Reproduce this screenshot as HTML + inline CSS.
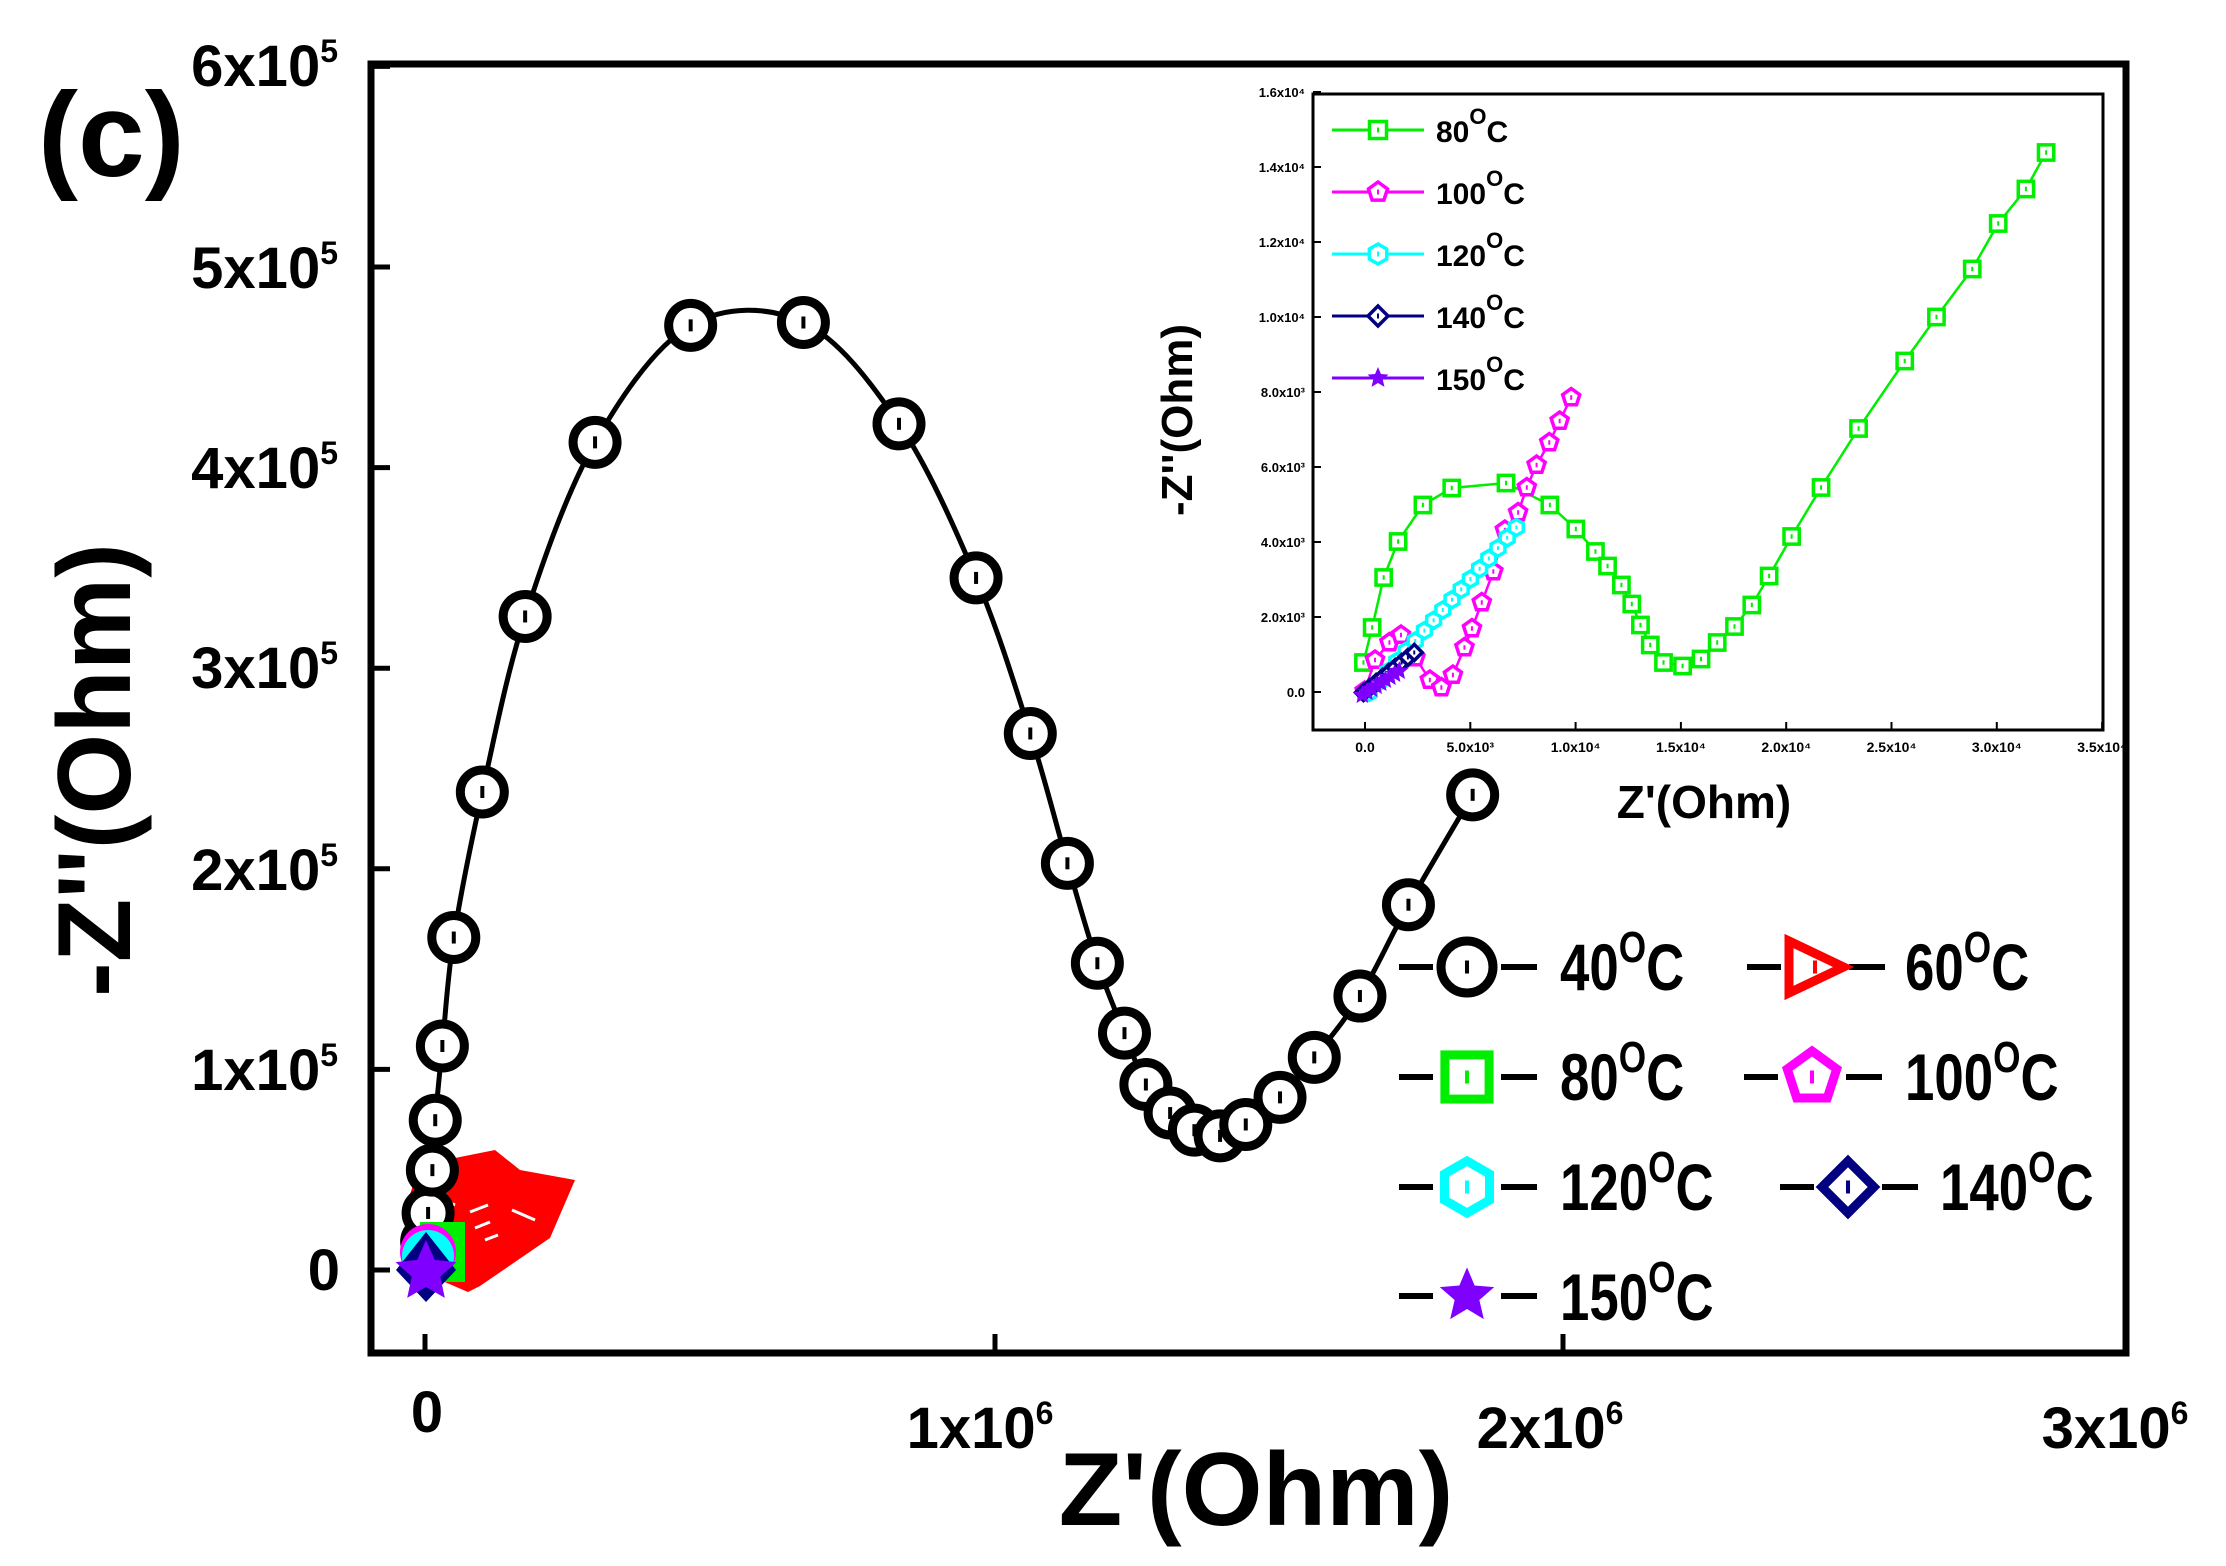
<!DOCTYPE html>
<html><head><meta charset="utf-8"><style>
html,body{margin:0;padding:0;background:#fff;}
svg{display:block;}
text{font-family:"Liberation Sans",sans-serif;}
</style></head><body>
<svg id="s" width="2226" height="1566" viewBox="0 0 2226 1566" xmlns="http://www.w3.org/2000/svg">
<rect width="2226" height="1566" fill="#fff"/>
<rect x="371" y="64" width="1755" height="1289" fill="none" stroke="#000" stroke-width="7"/>
<g id="mainticks" stroke="#000" stroke-width="5"></g>
<g font-weight="bold" fill="#000" font-size="58" text-anchor="end">
<text x="340" y="1290">0</text>
<text x="338" y="1090">1x10<tspan dy="-24" font-size="32">5</tspan></text>
<text x="338" y="890">2x10<tspan dy="-24" font-size="32">5</tspan></text>
<text x="338" y="688">3x10<tspan dy="-24" font-size="32">5</tspan></text>
<text x="338" y="488">4x10<tspan dy="-24" font-size="32">5</tspan></text>
<text x="338" y="288">5x10<tspan dy="-24" font-size="32">5</tspan></text>
<text x="338" y="86">6x10<tspan dy="-24" font-size="32">5</tspan></text>
</g>
<g font-weight="bold" fill="#000" font-size="58" text-anchor="middle">
<text x="427" y="1432">0</text>
<text x="980" y="1448">1x10<tspan dy="-24" font-size="32">6</tspan></text>
<text x="1550" y="1448">2x10<tspan dy="-24" font-size="32">6</tspan></text>
<text x="2115" y="1448">3x10<tspan dy="-24" font-size="32">6</tspan></text>
</g>
<text x="1256" y="1525" font-size="104" font-weight="bold" text-anchor="middle">Z'(Ohm)</text>
<text transform="translate(130,770) rotate(-90)" font-size="104" font-weight="bold" text-anchor="middle">-Z''(Ohm)</text>
<text x="38" y="176" font-size="120" font-weight="bold">(c)</text>

<polygon points="420,1165 495,1150 520,1170 575,1180 550,1238 480,1286 468,1292 440,1280 412,1250 408,1200" fill="#ff0000"/>
<g stroke="#fff" stroke-width="3">
<line x1="435" y1="1180" x2="450" y2="1186"/><line x1="430" y1="1195" x2="455" y2="1205"/>
<line x1="470" y1="1212" x2="488" y2="1205"/><line x1="512" y1="1210" x2="535" y2="1220"/>
<line x1="475" y1="1228" x2="490" y2="1222"/><line x1="485" y1="1240" x2="498" y2="1235"/>
</g>
<g id="main"></g>
<g id="small"></g>

<g id="leg"></g>
<g font-size="66" fill="#000" font-weight="bold">
<text x="1560" y="990" transform="translate(1560,0) scale(0.8,1) translate(-1560,0)">40<tspan dy="-28" font-size="44">O</tspan><tspan dy="28">C</tspan></text>
<text x="1905" y="990" transform="translate(1905,0) scale(0.8,1) translate(-1905,0)">60<tspan dy="-28" font-size="44">O</tspan><tspan dy="28">C</tspan></text>
<text x="1560" y="1100" transform="translate(1560,0) scale(0.8,1) translate(-1560,0)">80<tspan dy="-28" font-size="44">O</tspan><tspan dy="28">C</tspan></text>
<text x="1905" y="1100" transform="translate(1905,0) scale(0.8,1) translate(-1905,0)">100<tspan dy="-28" font-size="44">O</tspan><tspan dy="28">C</tspan></text>
<text x="1560" y="1210" transform="translate(1560,0) scale(0.8,1) translate(-1560,0)">120<tspan dy="-28" font-size="44">O</tspan><tspan dy="28">C</tspan></text>
<text x="1940" y="1210" transform="translate(1940,0) scale(0.8,1) translate(-1940,0)">140<tspan dy="-28" font-size="44">O</tspan><tspan dy="28">C</tspan></text>
<text x="1560" y="1320" transform="translate(1560,0) scale(0.8,1) translate(-1560,0)">150<tspan dy="-28" font-size="44">O</tspan><tspan dy="28">C</tspan></text>
</g>

<rect x="1313" y="94" width="790" height="636" fill="#fff" stroke="#000" stroke-width="3"/>
<g id="insticks" stroke="#000" stroke-width="2"></g>
<g id="insdata"></g>
<text x="1704" y="818" font-size="46" font-weight="bold" text-anchor="middle">Z'(Ohm)</text>
<text transform="translate(1192,420) rotate(-90)" font-size="44" font-weight="bold" text-anchor="middle">-Z''(Ohm)</text>
<g font-size="28" fill="#000" id="insleg"></g>
</svg>
<script>
const NS="http://www.w3.org/2000/svg";
function el(p,t,a){const e=document.createElementNS(NS,t);for(const k in a)e.setAttribute(k,a[k]);p.appendChild(e);return e;}
const $=id=>document.getElementById(id);
const mt=$("mainticks");
for(let i=0;i<=6;i++){const y=1270-i*200.6;el(mt,"line",{x1:371,y1:y,x2:390,y2:y});}
[425,995,1563].forEach(x=>el(mt,"line",{x1:x,y1:1353,x2:x,y2:1334}));
const d=[[298,890],[299,870],[300,850],[303,820],[305,785],[310,733],[318,657],[338,555],[368,432],[417,310],[484,228],[563,226],[630,297],[684,405],[722,514],[748,605],[769,675],[788,724],[803,760],[820,780],[837,792],[855,796],[873,788],[897,769],[921,741],[953,698],[987,634],[1032,557]].map(p=>[p[0]*1.427,p[1]*1.427]);
function smooth(pts){let s="M"+pts[0][0]+","+pts[0][1];for(let i=0;i<pts.length-1;i++){const p0=pts[Math.max(0,i-1)],p1=pts[i],p2=pts[i+1],p3=pts[Math.min(pts.length-1,i+2)];s+=" C"+(p1[0]+(p2[0]-p0[0])/6)+","+(p1[1]+(p2[1]-p0[1])/6)+" "+(p2[0]-(p3[0]-p1[0])/6)+","+(p2[1]-(p3[1]-p1[1])/6)+" "+p2[0]+","+p2[1];}return s;}
const m=$("main");
el(m,"path",{d:smooth(d),fill:"none",stroke:"#000","stroke-width":5});
d.slice(1).forEach(p=>{el(m,"circle",{cx:p[0],cy:p[1],r:22,fill:"#fff",stroke:"#000","stroke-width":9});el(m,"line",{x1:p[0],y1:p[1]-6,x2:p[0],y2:p[1]+6,stroke:"#000","stroke-width":4});});
const sm=$("small");
el(sm,"rect",{x:420,y:1222,width:45,height:60,fill:"#00ee00"});
el(sm,"circle",{cx:428,cy:1252,r:28,fill:"#ff00ff"});
el(sm,"circle",{cx:428,cy:1256,r:26,fill:"#00ffff"});
el(sm,"polygon",{points:"426,1232 456,1270 426,1302 396,1270",fill:"#000080"});
function star(cx,cy,R,r){let s="";for(let i=0;i<10;i++){const a=-Math.PI/2+i*Math.PI/5,rr=i%2?r:R;s+=(cx+rr*Math.cos(a))+","+(cy+rr*Math.sin(a))+" ";}return s;}
el(sm,"polygon",{points:star(426,1272,32,15),fill:"#7f00ff"});
const lg=$("leg");
function legItem(x,y,type){
 el(lg,"line",{x1:x-68,y1:y,x2:x-34,y2:y,stroke:"#000","stroke-width":6});
 el(lg,"line",{x1:x+34,y1:y,x2:x+70,y2:y,stroke:"#000","stroke-width":6});
 marker(lg,x,y,type,26,9);
}
function marker(g,x,y,type,r,sw){
 const st={fill:"#fff","stroke-width":sw};
 if(type==="c")el(g,"circle",Object.assign({cx:x,cy:y,r:r,stroke:"#000"},st));
 if(type==="t")el(g,"polygon",Object.assign({points:`${x-r},${y-r} ${x+r*1.1},${y} ${x-r},${y+r}`,stroke:"#ff0000"},st));
 if(type==="s")el(g,"rect",Object.assign({x:x-r*0.85,y:y-r*0.85,width:r*1.7,height:r*1.7,stroke:"#00ee00"},st));
 if(type==="p"){let s="";for(let i=0;i<5;i++){const a=-Math.PI/2+i*2*Math.PI/5;s+=(x+r*Math.cos(a))+","+(y+r*Math.sin(a))+" ";}el(g,"polygon",Object.assign({points:s,stroke:"#ff00ff"},st));}
 if(type==="h"){let s="";for(let i=0;i<6;i++){const a=-Math.PI/2+i*Math.PI/3;s+=(x+r*Math.cos(a))+","+(y+r*Math.sin(a))+" ";}el(g,"polygon",Object.assign({points:s,stroke:"#00ffff"},st));}
 if(type==="d")el(g,"polygon",Object.assign({points:`${x},${y-r} ${x+r},${y} ${x},${y+r} ${x-r},${y}`,stroke:"#000080"},st));
 if(type==="st")el(g,"polygon",{points:star(x,y,r*1.1,r*0.5),fill:"#7f00ff"});
 if(type!=="st")el(g,"line",{x1:x,y1:y-r*0.25,x2:x,y2:y+r*0.25,stroke:{c:"#000",t:"#ff0000",s:"#00ee00",p:"#ff00ff",h:"#00ffff",d:"#000080"}[type],"stroke-width":Math.max(2,sw*0.45)});
}
legItem(1467,967,"c");legItem(1815,967,"t");
legItem(1467,1077,"s");legItem(1812,1077,"p");
legItem(1467,1187,"h");legItem(1848,1187,"d");
legItem(1467,1296,"st");
const it=$("insticks"),X0=1365,Y0=692;
const tl=$("insleg");
for(let i=0;i<=7;i++){const x=X0+i*105.3;el(it,"line",{x1:x,y1:730,x2:x,y2:722});
 const t=el(tl,"text",{x:x,y:752,"font-size":14,"font-weight":"bold","text-anchor":"middle"});t.textContent=i===0?"0.0":(i*5/10).toFixed(1)+"x10⁴";if(i===1)t.textContent="5.0x10³";}
for(let i=0;i<=8;i++){const y=Y0-i*75;el(it,"line",{x1:1313,y1:y,x2:1321,y2:y});
 const t=el(tl,"text",{x:1305,y:y+5,"font-size":13,"font-weight":"bold","text-anchor":"end"});t.textContent=i===0?"0.0":(i*2<10?(i*2)+".0x10³":((i*2)/10).toFixed(1)+"x10⁴");}
const cv=p=>[1300+p[0]/1.733,60+p[1]/2];
const G=[[110,1205],[125,1135],[145,1035],[170,963],[213,890],[263,856],[357,846],[433,890],[478,938],[512,983],[533,1012],[557,1050],[575,1088],[590,1130],[607,1170],[630,1205],[663,1212],[695,1198],[723,1165],[753,1133],[783,1090],[813,1032],[852,953],[903,855],[968,737],[1048,602],[1103,514],[1165,418],[1210,327],[1258,258],[1293,185]].map(cv);
const M=[[112,1262],[130,1200],[155,1165],[175,1150],[200,1195],[225,1240],[245,1255],[265,1230],[285,1175],[298,1137],[315,1085],[335,1023],[355,940],[378,905],[393,855],[410,810],[432,765],[450,722],[470,675]].map(cv);
const C=[];for(let i=0;i<=16;i++){C.push(cv([120+i*(375-120)/16,1265-i*(1265-935)/16]));}
const N=[];for(let i=0;i<=8;i++){N.push(cv([110+i*11,1265-i*10]));}
const P=[];for(let i=0;i<=8;i++){P.push(cv([108+i*8,1270-i*6]));}
const idt=$("insdata");
function series(pts,col,type,r){el(idt,"polyline",{points:pts.map(p=>p.join(",")).join(" "),fill:"none",stroke:col,"stroke-width":2.5});pts.forEach(p=>marker(idt,p[0],p[1],type,r,3.5));}
series(G,"#00ee00","s",9);series(M,"#ff00ff","p",9);series(C,"#00ffff","h",8);series(N,"#000080","d",8);series(P,"#7f00ff","st",9);
const rows=[["80","#00ee00","s"],["100","#ff00ff","p"],["120","#00ffff","h"],["140","#000080","d"],["150","#7f00ff","st"]];
rows.forEach((r,i)=>{const y=130+i*62;el(idt,"line",{x1:1332,y1:y,x2:1424,y2:y,stroke:r[1],"stroke-width":3});marker(idt,1378,y,r[2],10,3.5);
 const t=el(tl,"text",{x:1436,y:y+12,"font-size":30,"font-weight":"bold"});t.innerHTML=r[0]+'<tspan dy="-18" font-size="22">O</tspan><tspan dy="18">C</tspan>';});
</script>
</body></html>
